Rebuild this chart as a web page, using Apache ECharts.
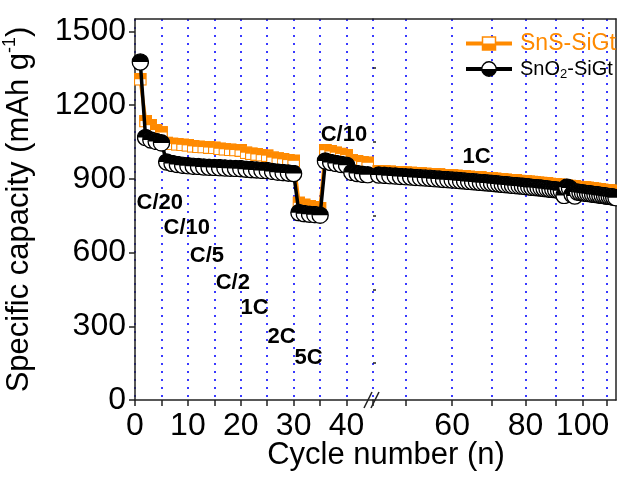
<!DOCTYPE html>
<html>
<head>
<meta charset="utf-8">
<script src="https://cdn.jsdelivr.net/npm/echarts@6/dist/echarts.min.js"></script>
<style>
  html, body { margin: 0; padding: 0; background: #fff; }
  #chart { width: 617px; height: 479px; }
</style>
</head>
<body>
<div id="chart"></div>
<script>
// cycle number of each point (1 ... 114)
const cycles = Array.from({ length: 114 }, (_, i) => i + 1);

// SnS-SiGt capacity (mAh/g), one value per cycle
const snsCapacity = [
  1305, 1135, 1118, 1098, 1088,
  1046, 1042, 1040, 1038, 1036,
  1032, 1030, 1029, 1027, 1026,
  1022, 1020, 1018, 1017, 1015,
  1006, 1002, 999, 996, 994,
  986, 982, 979, 976, 973,
  802, 794, 788, 784, 780,
  1016, 1011, 1006, 1001, 996,
  976, 971, 968, 965,
  931, 930, 929, 927, 926, 925, 924, 923, 921, 920,
  919, 918, 917, 915, 914, 913, 912, 911, 909, 908,
  907, 906, 905, 903, 902, 901, 900, 899, 897, 896,
  895, 894, 893, 891, 890, 889, 888, 887, 885, 884,
  883, 882, 881, 879, 878, 877, 876, 875, 873, 872,
  871, 870, 869, 867, 866, 865, 864, 863, 861, 860,
  859, 858, 857, 855, 854, 853, 852, 851, 849, 848
];

// SnO2-SiGt capacity (mAh/g), one value per cycle
const sno2Capacity = [
  1375, 1068, 1058, 1052, 1046,
  968, 962, 958, 955, 953,
  951, 950, 948, 947, 946,
  945, 944, 943, 942, 941,
  939, 937, 936, 934, 933,
  930, 927, 925, 923, 921,
  762, 758, 756, 754, 752,
  972, 966, 962, 958, 955,
  926, 921, 918, 916,
  915, 914, 912, 911, 909, 908, 907, 905, 904, 903,
  902, 900, 899, 897, 896, 895, 894, 892, 891, 889,
  888, 887, 885, 884, 883, 882, 880, 879, 877, 876,
  875, 873, 872, 871, 870, 868, 867, 865, 864, 863,
  862, 860, 859, 857, 856, 855, 853, 851, 832, 866,
  862, 836, 830, 846, 844, 843, 841, 840, 839, 837,
  836, 835, 833, 832, 831, 829, 828, 827, 825, 823
];

// rate annotations (cycle, capacity) for the left part
const rateNames = ['C/20', 'C/10', 'C/5', 'C/2', '1C', '2C', '5C', 'C/10'];
const rateCycle = [4.7, 9.8, 13.6, 18.5, 22.6, 27.7, 32.8, 39.5];
const rateCap = [801, 699, 585, 476, 374, 256, 171, 1077];
// rate annotation on the right (log) part
const longRateName = '1C';
const longRateCycle = 66;
const longRateCap = 988;

// axis ticks
const yTicks = [0, 300, 600, 900, 1200, 1500];
const yMinorTicks = [150, 450, 750, 1050, 1350];
const rightTicks = [50, 60, 70, 80, 90, 100, 110];
const rightLabels = [60, 80, 100];
const breakCycle = 45;

const ORANGE = '#FF8A00';
const FONT = 'Arial, "Liberation Sans", sans-serif';

const svg = s => 'image://data:image/svg+xml;utf8,' + encodeURIComponent(s);
const circleSym = svg("<svg xmlns='http://www.w3.org/2000/svg' width='40' height='40' viewBox='0 0 40 40'><circle cx='20' cy='20' r='18' fill='#fff' stroke='#000' stroke-width='3'/><path d='M2 20 A18 18 0 0 1 38 20 Z' fill='#000'/></svg>");
const squareSym = svg("<svg xmlns='http://www.w3.org/2000/svg' width='40' height='40' viewBox='0 0 40 40'><rect x='2' y='2' width='36' height='36' fill='#fff' stroke='" + ORANGE + "' stroke-width='4'/><rect x='2' y='2' width='36' height='18' fill='" + ORANGE + "'/></svg>");
const snsIcon = svg("<svg xmlns='http://www.w3.org/2000/svg' width='46' height='16' viewBox='0 0 46 16'><line x1='0' y1='8' x2='46' y2='8' stroke='" + ORANGE + "' stroke-width='4'/><rect x='16.5' y='1.5' width='13' height='13' fill='#fff' stroke='" + ORANGE + "' stroke-width='1.5'/><rect x='16.5' y='8' width='13' height='6.5' fill='" + ORANGE + "'/></svg>");
const sno2Icon = svg("<svg xmlns='http://www.w3.org/2000/svg' width='46' height='16' viewBox='0 0 46 16'><line x1='0' y1='8' x2='46' y2='8' stroke='#000' stroke-width='4'/><circle cx='23' cy='8' r='7.2' fill='#fff' stroke='#000' stroke-width='1.4'/><path d='M15.8 8 A7.2 7.2 0 0 0 30.2 8 Z' fill='#000'/></svg>");

const leftPart = vals => cycles.map((c, i) => [c, vals[i]]).filter(p => p[0] < breakCycle);
const rightPart = vals => cycles.map((c, i) => [Math.log10(c), vals[i]]).filter(p => p[0] >= Math.log10(breakCycle));

const axisLine = { show: true, onZero: false, lineStyle: { color: '#222', width: 1.5 } };
const dotted = { show: true, showMinLine: true, showMaxLine: true, lineStyle: { color: '#3a3aff', width: 2, type: [2, 6] } };
const bareAxis = { axisTick: { show: false }, axisLabel: { show: false }, splitLine: { show: false } };
const tickStyle = { color: '#222', width: 1.5 };

const chart = echarts.init(document.getElementById('chart'));

const lineSeries = (name, data, x, y, sym, size, color) => ({
  name, type: 'line', xAxisIndex: x, yAxisIndex: y, data,
  symbol: sym, symbolSize: size, showSymbol: true, clip: false,
  lineStyle: { color, width: 3.5 }, itemStyle: { color },
  z: color === ORANGE ? 2 : 3
});

const rateLabel = {
  show: true, position: 'inside', formatter: '{b}', fontSize: 22, fontWeight: 'bold',
  color: '#000', opacity: 1, fontFamily: FONT
};

chart.setOption({
  animation: false,
  textStyle: { fontFamily: FONT },
  grid: [
    { left: 134, top: 19, width: 239, height: 381 },
    { left: 373, top: 19, width: 243, height: 381 }
  ],
  legend: {
    orient: 'vertical',
    left: 461,
    top: 27,
    itemWidth: 46,
    itemHeight: 16,
    itemGap: 4,
    data: [
      { name: 'SnS-SiGt', icon: snsIcon, textStyle: { color: ORANGE, fontSize: 23 } },
      { name: 'SnO2-SiGt', icon: sno2Icon }
    ],
    formatter: n => n === 'SnO2-SiGt' ? '{a|SnO}{b|2}{a|-SiGt}' : n,
    textStyle: {
      fontFamily: FONT,
      padding: [0, 0, 0, 3],
      rich: {
        a: { fontSize: 20, color: '#000', fontFamily: FONT, lineHeight: 24 },
        b: { fontSize: 13, color: '#000', fontFamily: FONT, verticalAlign: 'bottom', lineHeight: 13 }
      }
    }
  },
  xAxis: [
    {
      gridIndex: 0, type: 'value', min: 0, max: breakCycle, interval: 5,
      axisLine, axisTick: { length: 6, lineStyle: tickStyle },
      axisLabel: {
        fontSize: 32, color: '#000', margin: 10,
        formatter: v => (v % 10 === 0 && v < breakCycle ? String(v) : '')
      },
      splitLine: dotted
    },
    {
      gridIndex: 1, type: 'value', min: Math.log10(44), max: Math.log10(114),
      axisLine,
      axisTick: { length: 6, lineStyle: tickStyle, customValues: rightTicks.map(Math.log10) },
      axisLabel: {
        fontSize: 32, color: '#000', margin: 10,
        customValues: rightLabels.map(Math.log10),
        formatter: v => String(Math.round(Math.pow(10, v)))
      },
      splitLine: dotted
    },
    Object.assign({ gridIndex: 0, type: 'value', position: 'top', min: 0, max: breakCycle, axisLine }, bareAxis),
    Object.assign({ gridIndex: 1, type: 'value', position: 'top', min: 1, max: 2, axisLine }, bareAxis)
  ],
  yAxis: [
    {
      gridIndex: 0, type: 'value', min: 0, max: 1550,
      axisLine,
      axisTick: { length: 6, lineStyle: tickStyle, customValues: yTicks },
      axisLabel: { fontSize: 32, color: '#000', margin: 9, customValues: yTicks, formatter: v => String(v) },
      splitLine: { show: false },
      name: '{a|Specific capacity (mAh g}{s|-1}{a|)}',
      nameLocation: 'middle',
      nameGap: 98,
      nameTextStyle: {
        rich: {
          a: { fontSize: 31, color: '#000', fontFamily: FONT, lineHeight: 36 },
          s: { fontSize: 18, color: '#000', fontFamily: FONT, verticalAlign: 'top', lineHeight: 18 }
        }
      }
    },
    {
      gridIndex: 0, type: 'value', min: 0, max: 1550,
      axisLine: { show: false, onZero: false },
      axisTick: { length: 3, lineStyle: tickStyle, customValues: yMinorTicks },
      axisLabel: { show: false },
      splitLine: { show: false }
    },
    Object.assign({ gridIndex: 1, type: 'value', position: 'right', min: 0, max: 1550, axisLine }, bareAxis)
  ],
  graphic: [
    {
      type: 'text', x: 386, y: 440,
      style: { text: 'Cycle number (n)', font: '31px ' + FONT, fill: '#000', textAlign: 'center' }
    },
    { type: 'line', shape: { x1: 364, y1: 408, x2: 372, y2: 392 }, style: { stroke: '#222', lineWidth: 1.5 } },
    { type: 'line', shape: { x1: 371, y1: 408, x2: 379, y2: 392 }, style: { stroke: '#222', lineWidth: 1.5 } }
  ],
  series: [
    lineSeries('SnS-SiGt', leftPart(snsCapacity), 0, 0, squareSym, 13, ORANGE),
    lineSeries('SnS-SiGt', rightPart(snsCapacity), 1, 2, squareSym, 13, ORANGE),
    lineSeries('SnO2-SiGt', leftPart(sno2Capacity), 0, 0, circleSym, 18, '#000'),
    lineSeries('SnO2-SiGt', rightPart(sno2Capacity), 1, 2, circleSym, 18, '#000'),
    {
      type: 'scatter', xAxisIndex: 0, yAxisIndex: 0, silent: true, symbolSize: 0,
      itemStyle: { color: 'transparent', opacity: 1 }, z: 5,
      data: rateNames.map((n, i) => ({ name: n, value: [rateCycle[i], rateCap[i]] })),
      label: rateLabel
    },
    {
      type: 'scatter', xAxisIndex: 1, yAxisIndex: 2, silent: true, symbolSize: 0,
      itemStyle: { color: 'transparent', opacity: 1 }, z: 5,
      data: [{ name: longRateName, value: [Math.log10(longRateCycle), longRateCap] }],
      label: rateLabel
    }
  ]
});
</script>
</body>
</html>
